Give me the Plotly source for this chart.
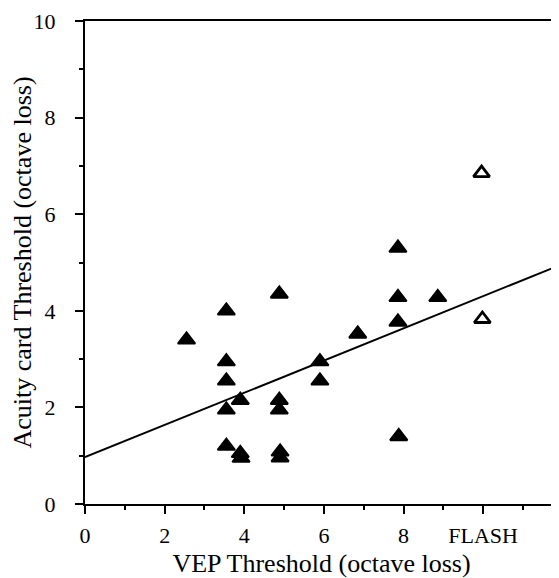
import plotly.graph_objects as go

# Filled triangles: VEP threshold (x) vs acuity card threshold (y), octave loss
vep_filled = [2.55, 3.55, 3.55, 3.55, 3.55, 3.55, 3.9, 3.9, 3.92,
              4.88, 4.88, 4.88, 4.9, 4.9, 5.9, 5.9, 6.85,
              7.86, 7.86, 7.86, 7.88, 8.86]
acuity_filled = [3.4, 4.0, 2.95, 2.55, 1.95, 1.2, 2.15, 1.05, 0.95,
                 4.35, 2.15, 1.95, 1.08, 0.96, 2.95, 2.55, 3.52,
                 5.3, 4.28, 3.77, 1.4, 4.28]

# Open triangles: FLASH category
vep_open = [9.96, 9.98]
acuity_open = [6.85, 3.83]

# Regression line end points
fit_x = [0, 11.88]
fit_y = [0.97, 4.93]

x_tickvals = [0, 2, 4, 6, 8, 10]
x_ticktext = ["0", "2", "4", "6", "8", "FLASH"]
x_minor = [1, 3, 5, 7, 9, 11]
y_tickvals = [0, 2, 4, 6, 8, 10]
y_ticktext = ["0", "2", "4", "6", "8", "10"]
y_minor = [1, 3, 5, 7, 9]

FONT = "Liberation Serif, Times New Roman, serif"

fig = go.Figure()
fig.add_trace(go.Scatter(x=fit_x, y=fit_y, mode="lines",
                         line=dict(color="black", width=2), hoverinfo="skip"))
fig.add_trace(go.Scatter(x=vep_filled, y=acuity_filled, mode="markers",
                         marker=dict(symbol="triangle-up", size=15, color="black",
                                     line=dict(color="black", width=2))))
fig.add_trace(go.Scatter(x=vep_open, y=acuity_open, mode="markers",
                         marker=dict(symbol="triangle-up-open", size=14, color="black",
                                     line=dict(color="black", width=2.8))))

axis_common = dict(showgrid=False, zeroline=False, showline=True, linecolor="black",
                   linewidth=2, ticks="outside", ticklen=8, tickwidth=2, tickcolor="black",
                   ticklabeloverflow="allow",
                   tickfont=dict(family=FONT, size=22, color="black"))

fig.update_layout(
    width=551, height=570,
    margin=dict(l=74, r=1, t=7, b=74),
    paper_bgcolor="white", plot_bgcolor="white",
    showlegend=False,
    font=dict(family=FONT, color="black"),
    xaxis=dict(range=[0, 11.88], tickmode="array", tickvals=x_tickvals, ticktext=x_ticktext,
               mirror=True, ticklabelstandoff=3,
               minor=dict(tickmode="array", tickvals=x_minor, ticks="outside", ticklen=4,
                          tickwidth=1.5, tickcolor="black", showgrid=False),
               title=dict(text="VEP Threshold (octave loss)", font=dict(family=FONT, size=26),
                          standoff=6),
               **axis_common),
    yaxis=dict(range=[0, 10], tickmode="array", tickvals=y_tickvals, ticktext=y_ticktext,
               ticklabelstandoff=15,
               minor=dict(tickmode="array", tickvals=y_minor, ticks="outside", ticklen=4,
                          tickwidth=1.5, tickcolor="black", showgrid=False),
               title=dict(text="Acuity card Threshold (octave loss)", font=dict(family=FONT, size=26),
                          standoff=6),
               **axis_common),
    shapes=[dict(type="line", xref="paper", yref="y", x0=1, x1=1, y0=9.02, y1=10,
                 line=dict(color="black", width=1.5))],
)

fig.write_html("out.html")
